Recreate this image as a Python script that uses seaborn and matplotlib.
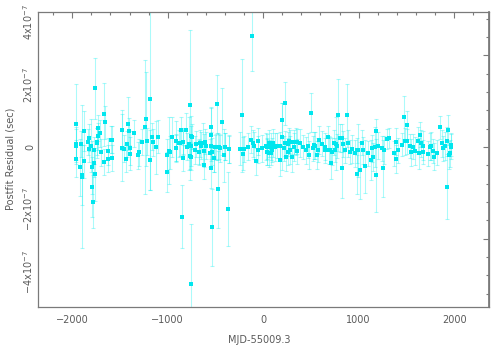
import matplotlib
matplotlib.use("Agg")
import matplotlib.pyplot as plt
from matplotlib.ticker import MultipleLocator
import seaborn as sns
import pandas as pd

# ---- data (MJD - 55009.3 in days, residuals in units of 1e-7 s) ----
mjd_offset = [
    -1965, -1965, -1958, -1965, -1919, -1912, -1899, -1895, -1881, -1881,
    -1836, -1829, -1822, -1801, -1797, -1794, -1787, -1776, -1773, -1759,
    -1759, -1741, -1735, -1735, -1745, -1707, -1700, -1665, -1661, -1665,
    -1626, -1626, -1595, -1584, -1588, -1483, -1483, -1462, -1438, -1431,
    -1420, -1403, -1400, -1393, -1351, -1316, -1305, -1267, -1239, -1225,
    -1222, -1190, -1187, -1169, -1159, -1124, -1106, -1012, -1009, -991,
    -974, -960, -918, -911, -883, -866, -855, -845, -838, -806,
    -799, -775, -764, -761, -757, -771, -754, -708, -674, -649,
    -632, -621, -618, -600, -551, -551, -548, -551, -537, -534,
    -513, -499, -482, -478, -471, -454, -433, -415, -401, -373,
    -359, -248, -220, -209, -202, -154, -129, -122, -105, -94,
    -77, -59, -56, -17, 31, 38, 56, 66, 80, 84,
    108, 143, 178, 181, 195, 202, 223, 230, 237, 255,
    269, 283, 304, 318, 342, 356, 384, 415, 450, 468,
    485, 503, 527, 541, 576, 586, 614, 646, 674, 694,
    712, 726, 743, 761, 778, 789, 806, 827, 841, 859,
    879, 886, 911, 928, 960, 988, 998, 1019, 1033, 1050,
    1071, 1103, 1127, 1141, 1155, 1169, 1187, 1187, 1208, 1242,
    1260, 1270, 1295, 1323, 1368, 1389, 1393, 1417, 1459, 1473,
    1490, 1504, 1511, 1543, 1550, 1571, 1591, 1626, 1630, 1644,
    1654, 1672, 1679, 1731, 1745, 1762, 1776, 1794, 1822, 1857,
    1871, 1888, 1906, 1923, 1930, 1940, 1947, 1958, 1968, 1972,
    38, 45, 91, 126, 230, 265, 276, 318, 353, 534,
    562, 649, 701, 754, 824, 981, -757, -747, -712, -677,
    -660, -614, -562, -520, -503, -468, -398, -363, -876, -841,
    -914,
]

residual_e7 = [
    0.73, 0.10, 0.04, -0.37, -0.65, 0.10, -0.90, -0.95, 0.51, -0.46,
    0.16, 0.30, -0.06, 0.05, -0.65, -1.28, -1.76, -0.52, -0.10, 1.88,
    -0.88, 0.12, 0.61, 0.35, 0.17, 0.44, -0.17, 1.06, 0.79, -0.48,
    -0.14, -0.37, 0.23, 0.23, -0.35, 0.55, -0.02, -0.05, -0.37, 0.10,
    0.74, 0.51, -0.03, -0.22, 0.44, -0.26, -0.17, 0.16, 0.65, 0.90,
    0.18, 1.54, -0.41, 0.33, 0.15, -0.01, 0.33, -0.81, -0.26, -0.12,
    -0.17, 0.33, 0.18, -0.02, 0.12, 0.54, -2.24, 0.17, -0.35, 0.55,
    0.01, 0.10, 1.34, -4.39, 0.04, -0.28, 0.35, 0.10, -0.16, 0.04,
    0.12, -0.58, -0.12, 0.05, 0.65, 0.39, 0.05, -0.68, -2.57, -0.15,
    -0.36, 0.00, 1.38, -1.35, 0.01, -0.04, 0.81, -0.27, 0.01, -1.99,
    -0.07, -0.06, 1.02, -0.22, -0.06, 0.01, 0.23, 3.55, 0.12, 0.04,
    -0.46, 0.18, -0.09, -0.04, 0.02, -0.16, -0.20, 0.12, 0.01, -0.18,
    0.14, 0.04, -0.42, 0.05, 0.87, 0.33, -0.04, 1.41, -0.31, 0.10,
    0.20, -0.10, -0.31, 0.17, 0.17, -0.14, 0.14, 0.01, -0.10, 0.04,
    -0.24, 1.10, -0.04, 0.05, -0.10, 0.24, 0.11, 0.01, 0.31, -0.10,
    -0.52, -0.15, 0.14, 0.11, 0.04, 1.02, 0.28, -0.68, 0.10, -0.10,
    1.02, 0.12, -0.15, -0.07, -0.20, -0.88, -0.10, -0.75, 0.14, -0.10,
    -0.61, -0.20, -0.41, -0.04, -0.31, 0.01, 0.50, -0.91, 0.04, -0.04,
    -0.68, -0.09, 0.25, 0.28, -0.20, 0.17, -0.37, -0.10, 0.08, 0.95,
    0.18, 0.18, 0.70, 0.03, -0.17, 0.01, -0.12, 0.20, -0.20, 0.39,
    0.12, -0.15, 0.05, -0.22, 0.01, 0.04, -0.12, -0.31, -0.18, 0.64,
    0.12, -0.04, 0.04, 0.20, -1.29, 0.56, -0.26, -0.20, 0.01, 0.08,
    0.01, -0.15, -0.10, 0.01, 0.12, -0.15, 0.17, 0.01, 0.17, 0.06,
    -0.26, -0.10, -0.10, -0.10, 0.28, -0.10, -0.31, 0.33, -0.10, -0.15,
    0.12, 0.17, -0.20, -0.36, 0.01, 0.01, 0.01, -0.07, 0.12, 0.17,
    -0.04,
]

uncertainty_e7 = [
    1.28, 0.53, 0.53, 0.59, 0.91, 0.43, 0.96, 2.30, 0.64, 0.53,
    0.43, 0.43, 0.43, 0.85, 0.85, 0.96, 0.85, 0.43, 0.43, 0.98,
    0.85, 0.48, 0.43, 0.43, 0.43, 0.43, 0.43, 1.01, 0.53, 0.43,
    0.43, 0.43, 0.43, 0.43, 0.43, 0.64, 1.07, 0.43, 0.43, 0.43,
    0.85, 0.43, 0.53, 0.53, 0.43, 0.43, 0.43, 0.43, 2.14, 1.50,
    0.43, 2.92, 0.96, 0.43, 0.43, 0.85, 0.53, 0.64, 0.53, 1.07,
    0.53, 0.64, 0.64, 0.43, 0.43, 0.43, 1.01, 0.43, 0.43, 0.53,
    0.43, 0.85, 2.40, 1.92, 0.64, 0.43, 0.64, 0.43, 0.43, 0.43,
    0.64, 0.43, 0.53, 0.43, 0.64, 0.85, 0.43, 0.64, 1.23, 0.43,
    0.43, 0.43, 0.93, 1.23, 0.43, 0.43, 1.07, 0.85, 0.43, 1.18,
    0.43, 0.53, 1.82, 0.53, 0.43, 0.43, 0.43, 1.12, 0.43, 0.43,
    0.43, 0.43, 0.43, 0.43, 0.43, 0.43, 0.43, 0.43, 0.43, 0.38,
    0.45, 0.40, 0.50, 0.43, 0.53, 1.07, 0.40, 0.69, 0.45, 0.38,
    0.40, 0.45, 0.50, 0.38, 0.43, 0.40, 0.45, 0.38, 0.43, 0.40,
    0.45, 0.62, 0.40, 0.43, 0.38, 0.45, 0.40, 0.43, 0.38, 0.45,
    0.50, 0.43, 0.40, 0.85, 0.38, 1.15, 0.45, 0.96, 0.43, 0.40,
    1.01, 0.43, 0.38, 0.45, 0.43, 0.64, 0.85, 0.91, 0.40, 0.43,
    0.85, 0.40, 0.64, 0.43, 0.45, 0.64, 0.40, 1.18, 0.43, 0.40,
    0.91, 0.45, 0.32, 0.32, 0.40, 0.43, 0.45, 0.40, 0.38, 0.69,
    0.43, 0.40, 0.45, 0.38, 0.43, 0.40, 0.45, 0.43, 0.50, 0.40,
    0.43, 0.38, 0.45, 0.40, 0.43, 0.45, 0.38, 0.43, 0.40, 0.37,
    0.43, 0.40, 0.45, 0.43, 1.01, 0.48, 0.45, 0.43, 0.40, 0.38,
    0.40, 0.43, 0.38, 0.45, 0.40, 0.43, 0.38, 0.45, 0.40, 0.43,
    0.45, 0.40, 0.43, 0.38, 0.45, 0.40, 0.43, 0.40, 0.45, 0.38,
    0.43, 0.40, 0.45, 0.43, 0.38, 0.40, 0.43, 0.45, 0.40, 0.38,
    0.43,
]

x_ticks = [-2000, -1000, 0, 1000, 2000]
x_tick_labels = ["\u22122000", "\u22121000", "0", "1000", "2000"]
y_ticks_e7 = [-4, -2, 0, 2, 4]
y_tick_labels = ["\u22124x10$^{\u22127}$", "\u22122x10$^{\u22127}$", "0",
                 "2x10$^{\u22127}$", "4x10$^{\u22127}$"]
x_label = "MJD-55009.3"
y_label = "Postfit Residual (sec)"

SCALE = 1e-7
df = pd.DataFrame({
    "mjd": mjd_offset,
    "res": [r * SCALE for r in residual_e7],
    "err": [e * SCALE for e in uncertainty_e7],
})

# ---- figure ----
sns.set_theme(style="white")
plt.rcParams["font.family"] = ["DejaVu Sans"]
grey = "#7a7a7a"
text_grey = "#5a5a5a"

fig = plt.figure(figsize=(4.91, 3.56), dpi=100)
ax = fig.add_axes([0.0768, 0.1385, 0.9192, 0.8285])

ax.errorbar(df["mjd"], df["res"], yerr=df["err"], fmt="none",
            ecolor="#00f0f0", alpha=0.33, elinewidth=0.75, capsize=1.3,
            capthick=0.75, zorder=2)
sns.scatterplot(data=df, x="mjd", y="res", marker="s", s=6, color="#00e6ee",
                linewidth=0, ax=ax, zorder=3, legend=False)

ax.set_xlim(-2362, 2366)
ax.set_ylim(-5.12e-7, 4.34e-7)

ax.set_xticks(x_ticks)
ax.set_xticklabels(x_tick_labels)
ax.xaxis.set_minor_locator(MultipleLocator(200))
ax.set_yticks([v * SCALE for v in y_ticks_e7])
ax.set_yticklabels(y_tick_labels, rotation=90, va="center")
ax.yaxis.set_minor_locator(MultipleLocator(1e-7))

ax.tick_params(axis="both", which="both", direction="in", colors=grey,
               labelcolor=text_grey, labelsize=7, top=True, right=False,
               width=0.8)
ax.tick_params(axis="both", which="major", length=4)
ax.tick_params(axis="both", which="minor", length=2.5)
ax.tick_params(axis="x", which="major", pad=6)
ax.tick_params(axis="y", which="major", pad=2)

# right-hand axis with its own tick spacing, no labels
unit = 0.5875e-7
sec = ax.secondary_yaxis("right", functions=(lambda y: y / unit, lambda p: p * unit))
sec.yaxis.set_major_locator(MultipleLocator(5))
sec.yaxis.set_minor_locator(MultipleLocator(1))
sec.tick_params(which="both", direction="in", colors=grey, labelright=False, width=0.8)
sec.tick_params(which="major", length=4)
sec.tick_params(which="minor", length=2.5)
sec.spines["right"].set_color(grey)

for sp in ax.spines.values():
    sp.set_color(grey)
    sp.set_linewidth(0.9)

ax.set_xlabel(x_label, fontsize=7, color=text_grey)
ax.set_ylabel(y_label, fontsize=7, color=text_grey)
ax.xaxis.set_label_coords(0.49, -0.096)
ax.yaxis.set_label_coords(-0.05, 0.5)

fig.savefig("out.png", dpi=100)
